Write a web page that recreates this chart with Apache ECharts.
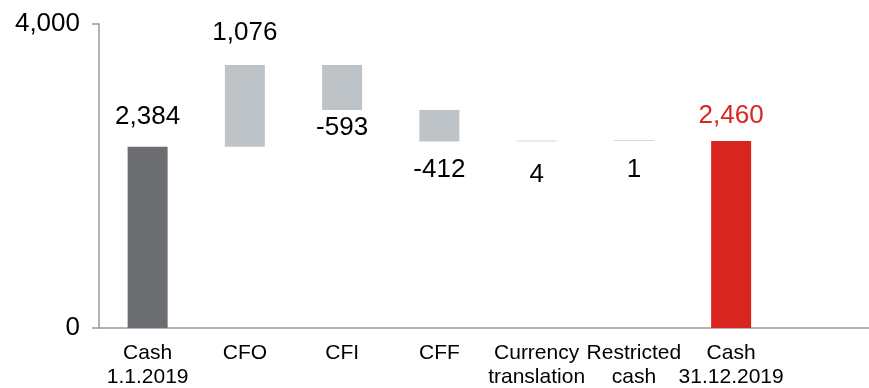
<!DOCTYPE html>
<html>
<head>
<meta charset="utf-8">
<script src="https://cdn.jsdelivr.net/npm/echarts@6/dist/echarts.min.js"></script>
<style>html,body{margin:0;padding:0;background:#fff;}#c{width:869px;height:388px;}</style>
</head>
<body>
<div id="c"></div>
<script>
const categories = ['Cash\n1.1.2019', 'CFO', 'CFI', 'CFF', 'Currency\ntranslation', 'Restricted\ncash', 'Cash\n31.12.2019', ''];
const startCash = 2384;
const flows = [1076, -593, -412, 4, 1];
const endCash = 2460;
const yTicks = [0, 4000];

// build waterfall base + visible heights
const base = [0];
const heights = [startCash];
const labels = [startCash];
let running = startCash;
flows.forEach(f => {
  const next = running + f;
  base.push(Math.min(running, next));
  heights.push(Math.abs(f));
  labels.push(f);
  running = next;
});
base.push(0); heights.push(endCash); labels.push(endCash);

const fmt = v => v.toLocaleString('en-US');
const colors = ['#6b6d70', '#bec3c7', '#bec3c7', '#bec3c7', '#d4d7da', '#d4d7da', '#d9251f'];
const labelPos = ['top', 'top', 'bottom', 'bottom', 'bottom', 'bottom', 'top'];
const labelDist = [17, 19, 5, 15, 20, 16, 12];

const visData = heights.map((h, i) => ({
  value: h,
  itemStyle: { color: colors[i] },
  label: {
    show: true,
    position: labelPos[i],
    distance: labelDist[i],
    formatter: fmt(labels[i]),
    color: i === 6 ? '#d9251f' : '#000'
  }
}));

const FF = 'Liberation Sans, Arial, sans-serif';
const chart = echarts.init(document.getElementById('c'), null, { renderer: 'canvas' });
chart.setOption({
  animation: false,
  textStyle: { fontFamily: FF },
  grid: { left: 99, right: -8, top: 24, bottom: 60, containLabel: false, outerBoundsMode: 'none' },
  xAxis: {
    type: 'category',
    data: categories,
    axisLine: { show: true, lineStyle: { color: '#9a9a9a', width: 1.5 } },
    axisTick: { show: false },
    axisLabel: { interval: 0, margin: 13, fontSize: 21, lineHeight: 24, color: '#000', fontFamily: FF },
    splitLine: { show: false }
  },
  yAxis: {
    type: 'value',
    min: yTicks[0],
    max: yTicks[1],
    interval: 4000,
    axisLine: { show: true, lineStyle: { color: '#9a9a9a', width: 1.5 } },
    axisTick: { show: true, length: 7, lineStyle: { color: '#9a9a9a', width: 1.5 } },
    axisLabel: { margin: 19, fontSize: 26, color: '#000', formatter: v => fmt(v), fontFamily: FF },
    splitLine: { show: false }
  },
  series: [
    {
      type: 'bar', stack: 'w', barWidth: 40, silent: true,
      itemStyle: { color: 'transparent' },
      data: base
    },
    {
      type: 'bar', stack: 'w', barWidth: 40, barMinHeight: 1,
      label: { fontSize: 26, fontFamily: FF },
      data: visData
    }
  ]
});
</script>
</body>
</html>
